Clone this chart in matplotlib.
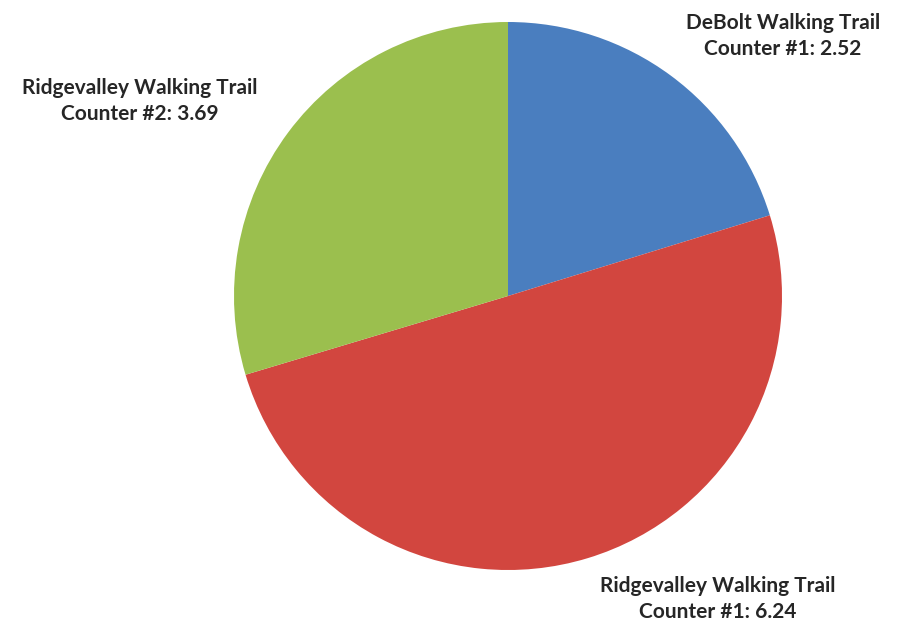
import matplotlib
matplotlib.use('Agg')
import matplotlib.pyplot as plt

# average daily counts per trail counter
labels = ['DeBolt Walking Trail\nCounter #1',
          'Ridgevalley Walking Trail\nCounter #1',
          'Ridgevalley Walking Trail\nCounter #2']
values = [2.52, 6.24, 3.69]
colors = ['#4a7ebf', '#d2463f', '#9bbf4e']

W, H = 898, 631
fig = plt.figure(figsize=(W / 100, H / 100), dpi=100, facecolor='white')
ax = fig.add_axes([0, 0, 1, 1])

ax.pie(values, colors=colors, startangle=90, counterclock=False,
       center=(508, H - 296), radius=274,
       wedgeprops=dict(linewidth=0))

# pie() resets the limits, so pin the pixel frame afterwards
ax.set_xlim(0, W)
ax.set_ylim(0, H)
ax.set_aspect('equal')
ax.axis('off')

# label spots (pixels from top-left)
label_pos = [(783, 36), (718, 599), (140, 101)]
for lab, val, (x, y) in zip(labels, values, label_pos):
    ax.text(x, H - y, '{}: {:.2f}'.format(lab, val), ha='center', va='center',
            fontsize=15, fontweight='bold', family='Lato', color='#262626',
            linespacing=1.4)

fig.savefig('out.png', dpi=100, facecolor='white')
